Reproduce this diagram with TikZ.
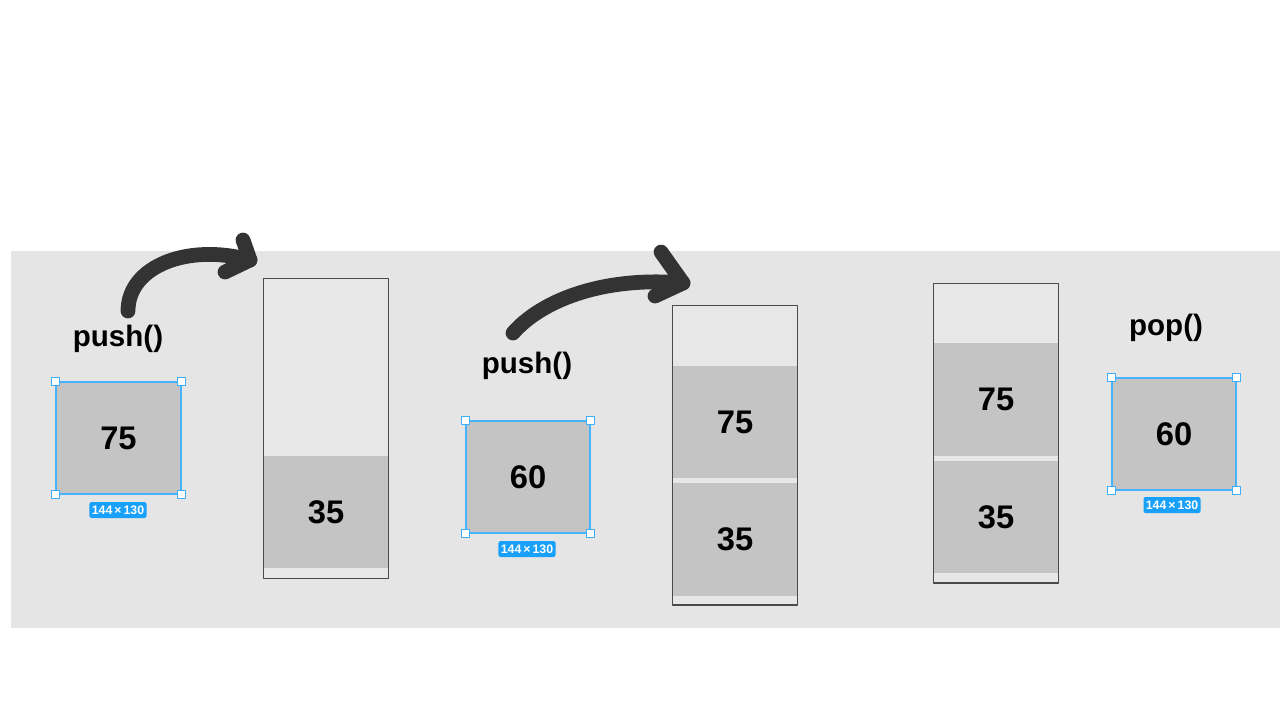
\documentclass[tikz,border=0pt]{standalone}
\usepackage{fontspec}
\usepackage{xcolor}
\usepackage{tikz}
\usetikzlibrary{calc}
\setmainfont{Liberation Sans}

\definecolor{canvas}{HTML}{E5E5E5}
\definecolor{stackfill}{HTML}{E7E7E7}
\definecolor{blockgray}{HTML}{C4C4C4}
\definecolor{figblue}{HTML}{18A0FB}
\definecolor{ink}{HTML}{333333}
\definecolor{rim}{HTML}{4A4A4A}

\tikzset{
  elem/.style={fill=blockgray,minimum width=1.24cm,minimum height=1.12cm,inner sep=0pt,
    font=\fontsize{9.3pt}{10pt}\selectfont\bfseries},
  stackbox/.style={fill=stackfill,minimum width=1.24cm,minimum height=2.98cm,inner sep=0pt},
  outline/.style={draw=rim,line width=0.4pt},
  picked/.style={draw=figblue!80,line width=0.45pt},
  handle/.style={draw=figblue!85,fill=white,line width=0.35pt,minimum size=0.08cm,inner sep=0pt},
  badge/.style={fill=figblue,text=white,rounded corners=0.6pt,minimum width=0.57cm,
    minimum height=0.16cm,inner sep=0pt,font=\fontsize{3.5pt}{3.8pt}\selectfont\bfseries},
  oplabel/.style={font=\fontsize{8.4pt}{9pt}\selectfont\bfseries},
  stroke/.style={draw=ink,line width=4.2pt,line cap=round,line join=round}
}

\begin{document}
\begin{tikzpicture}[x=0.01cm,y=-0.01cm,line join=round]
  \useasboundingbox (0,0) rectangle (1280,720);
  \fill[canvas] (11,251) rectangle (1280,628);

  % stacks
  \node[stackbox] (S1) at (326,428.5) {};
  \node[stackbox] (S2) at (735,455) {};
  \node[stackbox] (S3) at (996,433) {};
  \node[elem] (S1a) at (326,512) {35};
  \node[elem] (S2a) at (735,539.5) {35};
  \node[elem] (S2b) at (735,422) {75};
  \node[elem] (S3a) at (996,517) {35};
  \node[elem] (S3b) at (996,399.5) {75};
  \draw[outline] (S1.north west) rectangle (S1.south east);
  \draw[outline] (S2.north west) rectangle (S2.south east);
  \draw[outline] (S3.north west) rectangle (S3.south east);

  % selected elements
  \node[elem,picked,minimum width=1.25cm] (E1) at (118.5,438) {75};
  \node[elem,picked] (E2) at (528,477) {60};
  \node[elem,picked] (E3) at (1174,434) {60};
  \node[handle] (E1nw) at (E1.north west) {};
  \node[handle] (E1ne) at (E1.north east) {};
  \node[handle] (E1sw) at (E1.south west) {};
  \node[handle] (E1se) at (E1.south east) {};
  \node[handle] (E2nw) at (E2.north west) {};
  \node[handle] (E2ne) at (E2.north east) {};
  \node[handle] (E2sw) at (E2.south west) {};
  \node[handle] (E2se) at (E2.south east) {};
  \node[handle] (E3nw) at (E3.north west) {};
  \node[handle] (E3ne) at (E3.north east) {};
  \node[handle] (E3sw) at (E3.south west) {};
  \node[handle] (E3se) at (E3.south east) {};
  \node[badge] (B1) at (118,510) {144\,×\,130};
  \node[badge] (B2) at (527,549) {144\,×\,130};
  \node[badge] (B3) at (1172,505) {144\,×\,130};

  % operations
  \node[oplabel] (L1) at (118,339) {push()};
  \node[oplabel] (L2) at (527,366) {push()};
  \node[oplabel] (L3) at (1166,328) {pop()};

  % hand drawn arrows
  \coordinate (A1s) at (128,311);
  \coordinate (A1e) at (250,260);
  \draw[stroke] (A1s) .. controls (128,266) and (188,243) .. (A1e);
  \draw[stroke] (243,240) -- (A1e) -- (225,272);
  \coordinate (A2s) at (513,333);
  \coordinate (A2e) at (683,283);
  \draw[stroke] (A2s) .. controls (540,302) and (600,276) .. (A2e);
  \draw[stroke] (661,252) -- (A2e) -- (655,296);
\end{tikzpicture}
\end{document}
